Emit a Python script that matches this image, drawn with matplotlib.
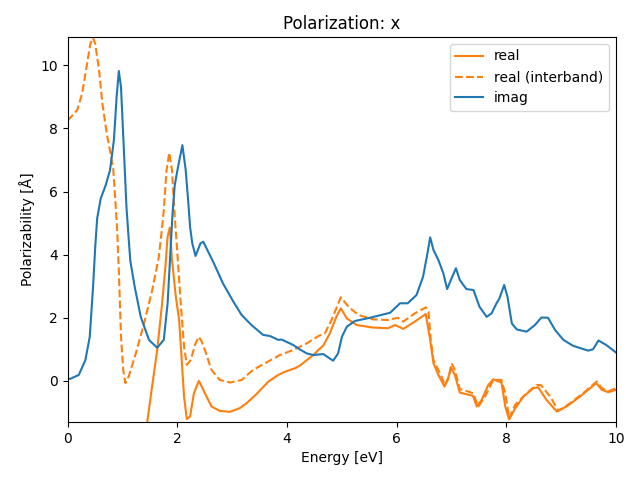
import matplotlib
matplotlib.use("Agg")
import matplotlib.pyplot as plt

# 光谱数据
E_IMAG = [0.0, 0.05, 0.20, 0.32, 0.40, 0.46, 0.50, 0.535, 0.60, 0.69, 0.77, 0.84,
          0.89, 0.93, 0.97, 1.02, 1.07, 1.11, 1.14, 1.22, 1.33, 1.48, 1.63, 1.75,
          1.82, 1.87, 1.91, 1.95, 2.01, 2.09, 2.15, 2.20, 2.23, 2.27, 2.33, 2.42,
          2.47, 2.65, 2.83, 3.02, 3.17, 3.35, 3.56, 3.69, 3.84, 3.90,
          4.11, 4.23, 4.36, 4.48, 4.66, 4.84, 4.93, 5.00, 5.09, 5.24, 5.51, 5.88,
          6.06, 6.20, 6.36, 6.48, 6.56, 6.61, 6.67, 6.76, 6.85, 6.92, 7.00, 7.08,
          7.15, 7.27, 7.40, 7.51, 7.64, 7.73, 7.82, 7.87, 7.96, 8.02, 8.10, 8.19,
          8.37, 8.52, 8.64, 8.76, 8.89, 9.04, 9.22, 9.49, 9.58, 9.68, 9.82, 10.0]
IMAG = [0.05, 0.07, 0.19, 0.66, 1.40, 2.98, 4.25, 5.15, 5.78, 6.2, 6.68, 7.63,
        9.0, 9.82, 9.31, 7.41, 5.5, 4.5, 3.8, 2.98, 2.03, 1.30, 1.05, 1.30,
        2.46, 4.04, 5.3, 6.2, 6.78, 7.47, 6.68, 5.6, 4.88, 4.36, 3.96, 4.36,
        4.41, 3.78, 3.09, 2.51, 2.09, 1.77, 1.46, 1.42, 1.30, 1.31,
        1.14, 1.0, 0.87, 0.82, 0.85, 0.64, 0.87, 1.40, 1.72, 1.90, 2.0, 2.16,
        2.46, 2.46, 2.72, 3.30, 4.04, 4.55, 4.15, 3.83, 3.41, 2.91, 3.25, 3.57,
        3.20, 2.91, 2.88, 2.35, 2.03, 2.14, 2.46, 2.6, 3.04, 2.67, 1.82, 1.63,
        1.56, 1.77, 2.01, 2.0, 1.61, 1.30, 1.11, 0.96, 1.0, 1.28, 1.14, 0.90]

E_INTER = [0.0, 0.17, 0.26, 0.34, 0.41, 0.46, 0.50, 0.57, 0.63, 0.71, 0.78, 0.83,
           0.87, 0.90, 0.93, 0.97, 1.01, 1.05, 1.11, 1.24, 1.39, 1.54, 1.66, 1.72,
           1.75, 1.80, 1.85, 1.90, 1.95, 1.99, 2.06, 2.12, 2.17, 2.24, 2.33, 2.39,
           2.44, 2.50, 2.62, 2.77, 2.96, 3.17, 3.38, 3.63,
           3.87, 4.11, 4.36, 4.57, 4.69, 4.81, 4.98, 5.12, 5.30, 5.57, 5.84, 6.02,
           6.12, 6.33, 6.53, 6.58, 6.62, 6.67, 6.79, 6.88, 6.95, 7.00, 7.06, 7.15,
           7.31, 7.39, 7.49, 7.61, 7.76, 7.91, 7.98, 8.05, 8.16, 8.37, 8.55, 8.63,
           8.80, 8.95, 9.16, 9.40, 9.65, 9.74, 9.86, 10.0]
REAL_INTER = [8.25, 8.58, 9.1, 9.94, 10.68, 10.88, 10.68, 9.84, 8.79, 7.84, 7.2, 6.68,
              5.62, 4.78, 3.51, 1.40, 0.35, -0.07, 0.14, 0.87, 1.82, 2.88, 3.93, 4.88,
              5.4, 6.68, 7.23, 6.68, 5.2, 4.25, 2.46, 1.09, 0.51, 0.66, 1.19, 1.40,
              1.25, 0.98, 0.35, 0.03, -0.05, 0.03, 0.35, 0.59,
              0.82, 0.98, 1.19, 1.42, 1.51, 1.93, 2.65, 2.35, 2.09, 1.95, 1.93, 2.0,
              1.88, 2.14, 2.33, 2.2, 1.30, 0.66, 0.24, -0.13, 0.13, 0.56, 0.35, -0.26,
              -0.34, -0.39, -0.81, -0.5, 0.03, 0.03, -0.39, -1.18, -0.76, -0.39, -0.13, -0.13,
              -0.5, -0.95, -0.71, -0.39, -0.02, -0.23, -0.33, -0.23]

E_REAL = [1.3, 1.45, 1.52, 1.63, 1.72, 1.78, 1.82, 1.86, 1.90, 1.97, 2.03, 2.07,
          2.12, 2.17, 2.23, 2.30, 2.39, 2.46, 2.50, 2.62, 2.77, 2.96, 3.14, 3.26,
          3.44, 3.66, 3.84, 3.96, 4.14,
          4.23, 4.36, 4.48, 4.57, 4.66, 4.78, 4.90, 4.98, 5.09, 5.27, 5.57, 5.84,
          5.97, 6.12, 6.33, 6.53, 6.61, 6.67, 6.76, 6.87, 6.93, 6.99, 7.06, 7.15,
          7.31, 7.39, 7.46, 7.55, 7.67, 7.76, 7.91, 7.98, 8.05, 8.16, 8.31, 8.49,
          8.58, 8.73, 8.92, 9.10, 9.34, 9.64, 9.74, 9.86, 10.0]
REAL = [-3.5, -1.29, -0.39, 0.98, 2.46, 3.62, 4.57, 4.86, 3.83, 2.67, 1.93, 0.87,
        -0.5, -1.21, -1.13, -0.39, 0.0, -0.24, -0.39, -0.81, -0.95, -0.98, -0.86, -0.71,
        -0.42, -0.02, 0.19, 0.29, 0.40,
        0.48, 0.66, 0.82, 0.98, 1.12, 1.51, 2.04, 2.30, 1.98, 1.77, 1.69, 1.67,
        1.77, 1.65, 1.88, 2.12, 1.3, 0.56, 0.19, -0.18, 0.03, 0.42, 0.19, -0.37,
        -0.44, -0.47, -0.81, -0.60, -0.13, 0.05, -0.05, -0.81, -1.22, -0.87, -0.50, -0.23,
        -0.20, -0.60, -0.97, -0.81, -0.50, -0.07, -0.28, -0.36, -0.28]


def main():
    fig, ax = plt.subplots(figsize=(6.4, 4.8), dpi=100)
    ax.plot(E_REAL, REAL, color="C1", label="real")
    ax.plot(E_INTER, REAL_INTER, color="C1", ls="--", label="real (interband)")
    ax.plot(E_IMAG, IMAG, color="C0", label="imag")
    ax.set_xlim(0, 10)
    ax.set_ylim(-1.3, 10.9)
    ax.set_xlabel("Energy [eV]")
    ax.set_ylabel("Polarizability [Å]")
    ax.set_title("Polarization: x")
    ax.legend(loc="upper right")
    fig.subplots_adjust(left=0.106, right=0.9625, top=0.923, bottom=0.121)
    fig.savefig("out.png", dpi=100)
    plt.close()


if __name__ == "__main__":
    main()
